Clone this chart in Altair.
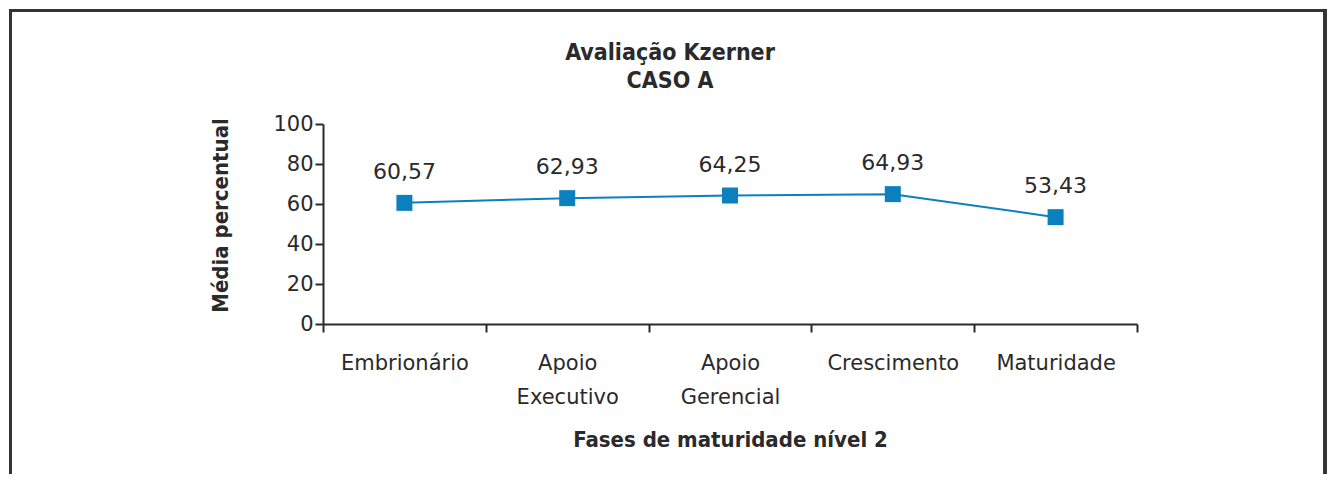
import altair as alt
import pandas as pd

fases = ["Embrionário", "Apoio|Executivo", "Apoio|Gerencial", "Crescimento", "Maturidade"]
valores = [60.57, 62.93, 64.25, 64.93, 53.43]

df = pd.DataFrame({"fase": fases, "valor": valores})

LABEL_FONT = "DejaVu Sans"
BOLD_FONT = "DejaVu Sans Condensed"
BLUE = "#0a80bf"
DARK = "#2a2a2a"

x_enc = alt.X(
    "fase:N",
    sort=fases,
    title="Fases de maturidade nível 2",
    scale=alt.Scale(paddingInner=0, paddingOuter=0, round=False),
    axis=alt.Axis(
        labelAngle=0,
        labelExpr="isValid(datum.value) ? split(datum.value, '|') : ''",
        labelLineHeight=34,
        labelPadding=20,
        tickBand="extent",
        tickSize=8,
        titlePadding=22,
    ),
)
y_enc = alt.Y(
    "valor:Q",
    title="Média percentual",
    scale=alt.Scale(domain=[0, 100]),
    axis=alt.Axis(values=[0, 20, 40, 60, 80, 100], tickSize=8, grid=False,
                  titlePadding=40, titleY=91),
)

base = alt.Chart(df).encode(x=x_enc, y=y_enc)

line = base.mark_line(color=BLUE, strokeWidth=2)
points = base.mark_square(color=BLUE, size=256, opacity=1)
labels = base.transform_calculate(
    rotulo="replace(format(datum.valor, '.2f'), '.', ',')"
).mark_text(
    dy=-31, fontSize=22, font=LABEL_FONT, color=DARK
).encode(text="rotulo:N")

border = alt.Chart(df).mark_rect(
    fill=None, stroke="#333333", strokeWidth=3, clip=False
).encode(
    x=alt.value(-312.5), x2=alt.value(1002),
    y=alt.value(-113.5), y2=alt.value(420),
)

chart = alt.layer(border, line, points, labels).properties(
    width=814,
    height=200,
    autosize=alt.AutoSizeParams(type="none"),
    padding={"left": 315, "top": 116, "right": 190, "bottom": 150},
    title=alt.TitleParams(
        text=["Avaliação Kzerner", "CASO A"],
        font=BOLD_FONT,
        fontSize=23,
        fontWeight="bold",
        color=DARK,
        lineHeight=28,
        anchor="middle",
        frame="group",
        dx=-60,
        dy=102,
        offset=18,
    ),
).configure_view(
    stroke=None
).configure_axis(
    domainColor=DARK,
    domainWidth=2,
    tickColor=DARK,
    tickWidth=2,
    labelFont=LABEL_FONT,
    labelFontSize=21,
    labelColor=DARK,
    titleFont=BOLD_FONT,
    titleFontSize=22,
    titleFontWeight="bold",
    titleColor=DARK,
    grid=False,
)

chart.save("out.html", embed_options={"renderer": "svg", "actions": False})
